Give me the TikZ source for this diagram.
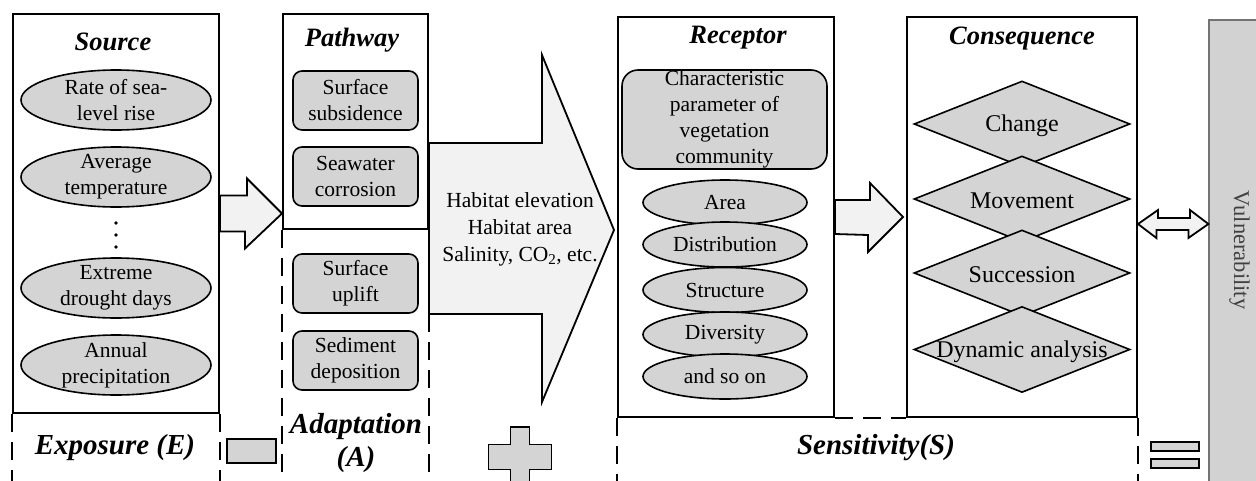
\documentclass[tikz,border=0pt]{standalone}
\usepackage{fontspec}
\setmainfont{Liberation Serif}
\usetikzlibrary{shapes.geometric,calc}
\definecolor{shapegray}{HTML}{D4D4D4}
\definecolor{arrowfill}{HTML}{F2F2F2}
\definecolor{vulngray}{HTML}{D2D2D2}
\newcommand\bodyfont{\fontsize{21.5}{26}\selectfont}
\newcommand\diafont{\fontsize{24}{28}\selectfont}
\newcommand\titlefont{\fontsize{26.5}{30}\selectfont\bfseries\itshape}
\newcommand\sumfont{\fontsize{29}{33}\selectfont\bfseries\itshape}

\begin{document}
\begin{tikzpicture}[x=1pt,y=-1pt,
  every node/.style={inner sep=0pt,align=center,font=\bodyfont},
  frame/.style={draw,line width=2pt},
  regionline/.style={line width=2pt,dash pattern=on 18pt off 10pt},
  title/.style={font=\titlefont},
  sumlabel/.style={font=\sumfont},
  srcoval/.style={ellipse,draw,fill=shapegray,line width=1.6pt,minimum width=190,minimum height=60,label={center:#1}},
  recoval/.style={ellipse,draw,fill=shapegray,line width=1.6pt,minimum width=164,minimum height=45},
  pbox/.style={draw,fill=shapegray,rounded corners=9pt,line width=1.6pt,minimum width=125,minimum height=59},
  dia/.style={diamond,draw,fill=shapegray,line width=1.6pt,minimum width=216,minimum height=86,label={[font=\diafont,yshift=-2pt]center:#1}},
  fatarrow/.style={draw,fill=arrowfill,line width=1.8pt,line join=miter},
  sign/.style={draw,fill=shapegray,line width=1.6pt}]
\useasboundingbox (0,0) rectangle (1256,480);
\clip (0,0) rectangle (1256,480);

% main boxes
\node[frame,minimum width=206,minimum height=399] (src) at (116,213.5) {};
\node[frame,minimum width=145,minimum height=215] (pw) at (355.5,121.5) {};
\node[frame,minimum width=216,minimum height=400] (rec) at (726,217) {};
\node[frame,minimum width=230,minimum height=400] (cons) at (1022,217) {};
\node[draw=black!55,fill=vulngray,line width=1.2pt,rotate=-90,minimum width=470,minimum height=50,
  font=\fontsize{22.5}{26}\selectfont,text=black!75] (vuln) at (1234,255) {\raisebox{0pt}[0pt][0pt]{\hspace*{-10pt}Vulnerability}};

% titles
\node[title] (srct) at (113,42) {Source};
\node[title] (pwt) at (352,40) {Pathway};
\node[title] (rect) at (738,38) {Receptor};
\node[title] (const) at (1022,39) {Consequence};

% source
\node[srcoval={Rate of sea-\\level rise}] (rate) at (116,100) {};
\node[srcoval={Average\\temperature}] (temp) at (116,177) {};
\coordinate (dots) at (116,235);
\foreach \dy in {-12,0,12}
  \fill ($(dots)+(0,\dy)$) circle (1.9);
\node[srcoval={Extreme\\drought days}] (drought) at (116,288) {};
\node[srcoval={Annual\\precipitation}] (precip) at (116,365) {};

% pathway and adaptation
\node[pbox] (subs) at (355.5,100.5) {Surface\\subsidence};
\node[pbox] (corr) at (355.5,176.5) {Seawater\\corrosion};
\node[pbox] (upl) at (355.5,283.5) {Surface\\uplift};
\node[pbox] (sed) at (355.5,360.5) {Sediment\\deposition};

% receptor
\node[pbox,minimum width=205,minimum height=99,rounded corners=16pt] (veg) at (724.5,119.5)
  {Characteristic\\parameter of\\vegetation\\community};
\node[recoval] (area) at (725,202.5) {Area};
\node[recoval] (dist) at (725,244.5) {Distribution};
\node[recoval] (struc) at (725,290) {Structure};
\node[recoval] (divers) at (725,334.5) {Diversity};
\node[recoval] (soon) at (725,376.5) {and so on};

% consequence
\node[dia=Change] (chg) at (1022,124) {};
\node[dia=Movement] (move) at (1022,199) {};
\node[dia=Succession] (succ) at (1022,273) {};
\node[dia=Dynamic analysis] (dyn) at (1022,349.5) {};

% dashed regions
\draw[regionline] (src.south west) -- ++(0,80);
\draw[regionline] (src.south east) -- ++(0,80);
\draw[regionline] (pw.south west) -- ++(0,260);
\draw[regionline] (pw.south east) -- ++(0,260);
\draw[regionline] (rec.south west) -- ++(0,80);
\draw[regionline] (cons.south east) -- ++(0,80);
\draw[regionline] (rec.south east) -- (cons.south west);

% block arrows
\draw[fatarrow] ($(src.east)+(0,-18)$) -- ++(27,0) -- ++(0,-17) -- (pw.west |- src.east)
  -- ++(-37,35) -- ++(0,-17) -- ($(src.east)+(0,18)$) -- cycle;
\draw[fatarrow] (pw.east |- 0,143) -- (542,143) -- (542,55) -- ($(rec.west |- pw.south)+(-3,0)$)
  -- (542,402) -- (542,314) -- (pw.east |- 0,314) -- cycle;
\node[font=\fontsize{21.5}{27}\selectfont] (habitat) at (520,229)
  {Habitat elevation\\Habitat area\\Salinity, CO\textsubscript{2}, etc.};
\draw[fatarrow] ($(rec.east)+(0,-17)$) -- ++(35,0) -- ++(0,-17) -- ($(cons.west)+(-3,0)$)
  -- ++(-35,35) -- ++(0,-17) -- ($(rec.east)+(0,17)$) -- cycle;
\coordinate (dl) at ($(cons.east)+(0,7)$);
\draw[fatarrow] (dl) -- ++(20,-14) -- ++(0,8) -- ++(32,0) -- ++(0,-8) -- (vuln.south |- dl)
  -- ++(-20,14) -- ++(0,-8) -- ++(-32,0) -- ++(0,8) -- cycle;

% E - A + S =
\node[sumlabel] (expo) at (115,448) {Exposure (E)};
\node[sign,minimum width=49,minimum height=24] (minus) at (251.5,451) {};
\node[sumlabel] (adapt) at (356,443) {Adaptation\\(A)};
\coordinate (plus) at (520,457);
\filldraw[sign] (plus) ++(-9.5,-30) -- ++(19,0) -- ++(0,17.5) -- ++(22,0) -- ++(0,25) -- ++(-22,0)
  -- ++(0,17.5) -- ++(-19,0) -- ++(0,-17.5) -- ++(-22,0) -- ++(0,-25) -- ++(22,0) -- cycle;
\node[sumlabel] (sens) at (876,448) {Sensitivity(S)};
\node[sign,minimum width=48,minimum height=9] (eqtop) at (1175,446.5) {};
\node[sign,minimum width=48,minimum height=9] (eqbot) at (1175,463.5) {};
\end{tikzpicture}
\end{document}
